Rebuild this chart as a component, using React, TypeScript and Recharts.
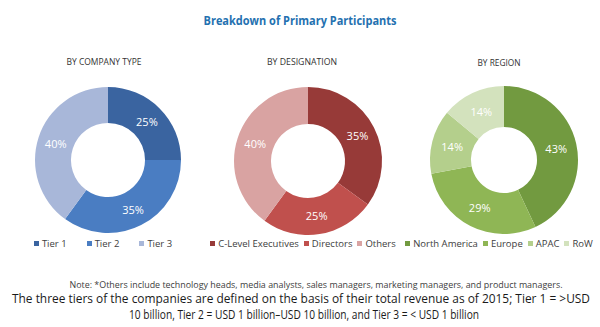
import { PieChart, Pie, Cell, Legend } from 'recharts';

const tierNames = ['Tier 1', 'Tier 2', 'Tier 3'];
const tierShares = [25, 35, 40];
const tierColors = ['#3a64a0', '#4a7dc2', '#a8b7d9'];

const designationNames = ['C-Level Executives', 'Directors', 'Others'];
const designationShares = [35, 25, 40];
const designationColors = ['#973a38', '#c0504d', '#d9a3a2'];

const regionNames = ['North America', 'Europe', 'APAC', 'RoW'];
const regionShares = [43, 29, 14, 14];
const regionColors = ['#729a40', '#8fb655', '#b4cf8c', '#d3e2bd'];

const RAD = Math.PI / 180;
const FONT = '"Open Sans", "Noto Sans", sans-serif';

const renderPct = ({ cx, cy, midAngle, innerRadius, outerRadius, value }: any) => {
  const r = (innerRadius + outerRadius) / 2;
  const x = cx + r * Math.cos(-midAngle * RAD);
  const y = cy + r * Math.sin(-midAngle * RAD);
  return (
    <text x={x} y={y} fill="#ffffff" fontSize={11} fontFamily={FONT} textAnchor="middle" dominantBaseline="central">
      {value}%
    </text>
  );
};

const makeLegend = (gap: number) => ({ payload }: any) => (
  <div style={{ display: 'flex', justifyContent: 'center', gap, fontFamily: FONT, fontSize: 9.5, color: '#404040' }}>
    {(payload || []).map((p: any) => (
      <div key={p.value} style={{ display: 'flex', alignItems: 'center' }}>
        <span style={{ width: 5, height: 5, background: p.color, marginRight: 3, display: 'inline-block' }} />
        <span>{p.value}</span>
      </div>
    ))}
  </div>
);

interface DonutProps {
  left: number;
  cx: number;
  cy: number;
  inner: number;
  outer: number;
  names: string[];
  shares: number[];
  colors: string[];
  gap: number;
}

function Donut({ left, cx, cy, inner, outer, names, shares, colors, gap }: DonutProps) {
  const data = names.map((name, i) => ({ name, value: shares[i] }));
  return (
    <div style={{ position: 'absolute', left, top: 0, width: 200, height: 260 }}>
      <PieChart width={200} height={260}>
        <Pie
          data={data}
          dataKey="value"
          nameKey="name"
          cx={cx}
          cy={cy}
          innerRadius={inner}
          outerRadius={outer}
          startAngle={90}
          endAngle={-270}
          stroke="none"
          label={renderPct}
          labelLine={false}
          isAnimationActive={false}
        >
          {data.map((d, i) => (
            <Cell key={d.name} fill={colors[i]} />
          ))}
        </Pie>
        <Legend
          content={makeLegend(gap)}
          itemSorter={(item: any) => names.indexOf(item.value)}
          wrapperStyle={{ position: 'absolute', top: 237, left: cx - 100, width: 200 }}
        />
      </PieChart>
    </div>
  );
}

export default function App() {
  return (
    <div style={{ position: 'absolute', left: 0, top: 0, width: 600, height: 327, background: '#ffffff', overflow: 'hidden' }}>
      <Donut left={0} cx={103} cy={155} inner={37} outer={73}
        names={tierNames} shares={tierShares} colors={tierColors} gap={20} />
      <Donut left={200} cx={103} cy={156} inner={37} outer={74}
        names={designationNames} shares={designationShares} colors={designationColors} gap={5} />
      <Donut left={400} cx={99} cy={155} inner={33} outer={74}
        names={regionNames} shares={regionShares} colors={regionColors} gap={5} />

      <svg width={600} height={327} style={{ position: 'absolute', left: 0, top: 0, pointerEvents: 'none' }}>
        <text x={300} y={25} textAnchor="middle" fontFamily={FONT} fontWeight={700} fontSize={13}
          fill="#2471b0" textLength={193} lengthAdjust="spacingAndGlyphs">
          Breakdown of Primary Participants
        </text>
        <text x={104} y={65} textAnchor="middle" fontFamily={FONT} fontSize={9} fill="#333333"
          textLength={75} lengthAdjust="spacingAndGlyphs">BY COMPANY TYPE</text>
        <text x={302} y={65} textAnchor="middle" fontFamily={FONT} fontSize={9} fill="#333333"
          textLength={70} lengthAdjust="spacingAndGlyphs">BY DESIGNATION</text>
        <text x={499} y={66} textAnchor="middle" fontFamily={FONT} fontSize={9} fill="#333333"
          textLength={43} lengthAdjust="spacingAndGlyphs">BY REGION</text>
        <text x={316} y={288} textAnchor="middle" fontFamily={FONT} fontSize={9} fill="#404040"
          textLength={493} lengthAdjust="spacingAndGlyphs">
          Note: *Others include technology heads, media analysts, sales managers, marketing managers, and product managers.
        </text>
        <text x={301} y={303} textAnchor="middle" fontFamily={FONT} fontSize={12} fill="#1a1a1a"
          textLength={578} lengthAdjust="spacingAndGlyphs">
          The three tiers of the companies are defined on the basis of their total revenue as of 2015; Tier 1 = &gt;USD
        </text>
        <text x={304} y={319} textAnchor="middle" fontFamily={FONT} fontSize={12} fill="#1a1a1a"
          textLength={350} lengthAdjust="spacingAndGlyphs">
          10 billion, Tier 2 = USD 1 billion–USD 10 billion, and Tier 3 = &lt; USD 1 billion
        </text>
      </svg>
    </div>
  );
}
